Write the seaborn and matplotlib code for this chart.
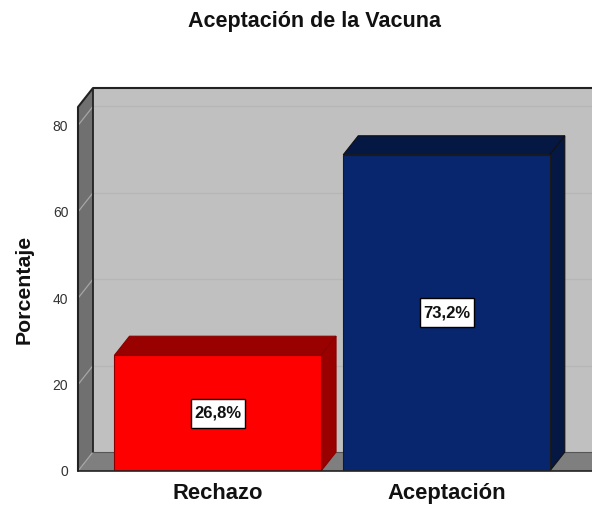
import matplotlib
matplotlib.use('Agg')
import matplotlib.pyplot as plt
from matplotlib.patches import Polygon, Rectangle
import pandas as pd
import seaborn as sns

categorias = ['Rechazo', 'Aceptación']
porcentajes = [26.8, 73.2]
etiquetas = ['26,8%', '73,2%']
ticks_y = [0, 20, 40, 60, 80]

colores_frente = ['#ff0000', '#08266e']
colores_lado = ['#990000', '#051743']

W, H = 592, 507
sns.set_style('white')
plt.rcParams['font.family'] = ['Liberation Sans', 'DejaVu Sans']

df = pd.DataFrame({'categoria': categorias, 'porcentaje': porcentajes})

fig = plt.figure(figsize=(W / 100, H / 100), dpi=100)
# eje: x de 78 a 592 px, y=0 en 471 px, 4.32 px por unidad
ax = fig.add_axes([78 / W, (H - 471) / H, (W - 78) / W, (471 - 88) / H])
ax.set_facecolor('white')

sns.barplot(data=df, x='categoria', y='porcentaje', hue='categoria', palette=colores_frente,
            width=0.903, legend=False, saturation=1, ax=ax, zorder=5)
barras = [b for b in ax.patches if b.get_height() > 0]
ax.set_xlim(-0.611, 1.636)
ax.set_ylim(0, 383 / 4.32)

# profundidad de la caja 3D, en unidades de datos
dx = 15 / 228.75
dy = 19 / 4.32
x0, x1 = ax.get_xlim()
y1 = ax.get_ylim()[1]

# pared del fondo, piso y pared lateral
ax.add_patch(Polygon([(x0 + dx, dy), (x1, dy), (x1, y1), (x0 + dx, y1)], fc='#c0c0c0', ec='none', zorder=1))
ax.add_patch(Polygon([(x0, 0), (x0 + dx, dy), (x1, dy), (x1, 0)], fc='#7f7f7f', ec='none', zorder=1))
ax.add_patch(Polygon([(x0, 0), (x0 + dx, dy), (x0 + dx, y1), (x0, y1 - dy)], fc='#707070', ec='none', zorder=1))

for t in ticks_y:
    if t > 0:
        ax.plot([x0 + dx, x1], [t + dy, t + dy], color='#b6b6b6', lw=1, zorder=2)
    ax.plot([x0, x0 + dx], [t, t + dy], color='#a6a6a6', lw=0.9, zorder=2)

# bordes de la caja
borde = '#222222'
ax.plot([x0, x0, x0 + dx, x1], [0, y1 - dy, y1, y1], color=borde, lw=1.5, zorder=3, clip_on=False)
ax.plot([x0 + dx, x0 + dx], [dy, y1], color=borde, lw=1.3, zorder=3)
ax.plot([x0 + dx, x1], [dy, dy], color='#555555', lw=0.8, zorder=3)
ax.plot([x0, x1], [0, 0], color='#222222', lw=1.2, zorder=8, clip_on=False)

# caja de etiqueta: 54x29 px
caja_w = 54 / 228.75
caja_h = 29 / 4.32

# caras superior y lateral de cada barra
for barra in barras:
    bx0 = barra.get_x()
    bx1 = bx0 + barra.get_width()
    alto = barra.get_height()
    idx = int(round((bx0 + bx1) / 2))
    barra.set_edgecolor('#1a1a1a' if idx == 1 else '#8a0000')
    barra.set_linewidth(0.8)
    ec = '#111111' if idx == 1 else '#8a0000'
    ax.add_patch(Polygon([(bx0, alto), (bx0 + dx, alto + dy), (bx1 + dx, alto + dy), (bx1, alto)],
                         fc=colores_lado[idx], ec=ec, lw=0.8, zorder=4))
    ax.add_patch(Polygon([(bx1, 0), (bx1 + dx, dy), (bx1 + dx, alto + dy), (bx1, alto)],
                         fc=colores_lado[idx], ec=ec, lw=0.8, zorder=4))
    xc = (bx0 + bx1) / 2
    ax.add_patch(Rectangle((xc - caja_w / 2, alto / 2 - caja_h / 2), caja_w, caja_h,
                           fc='white', ec='black', lw=1, zorder=8))
    ax.text(xc, alto / 2, etiquetas[idx], ha='center', va='center', fontsize=12,
            fontweight='bold', color='#111111', zorder=9)

for s in ax.spines.values():
    s.set_visible(False)

ax.set_yticks(ticks_y)
ax.tick_params(axis='y', length=0, pad=7, labelsize=10, labelcolor='#333333')
ax.tick_params(axis='x', length=0, pad=8.5, labelsize=15.8, labelcolor='#111111')
for lab in ax.get_xticklabels():
    lab.set_fontweight('bold')
ax.set_xlabel('')
ax.set_ylabel('')

fig.text(24.5 / W, 1 - 289 / H, 'Porcentaje', rotation=90, ha='center', va='center', fontsize=15.3,
         fontweight='bold', color='#111111')
fig.text(314 / W, 1 - 21.5 / H, 'Aceptación de la Vacuna', ha='center', va='center', fontsize=15.5,
         fontweight='bold', color='#111111')

fig.savefig('out.png', dpi=100)
plt.close(fig)
